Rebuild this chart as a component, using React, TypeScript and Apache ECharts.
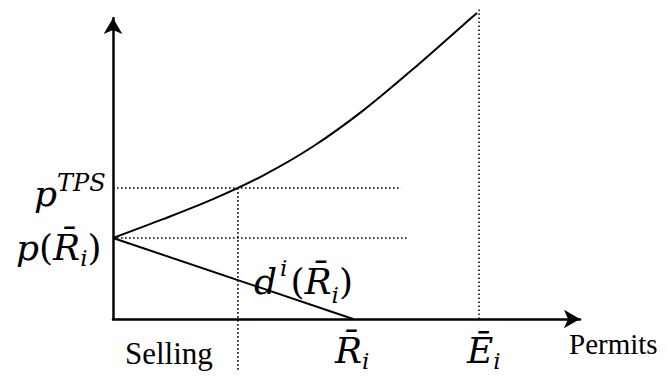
import React, { useEffect, useRef } from "react";
import * as echarts from "echarts";

// Supply (marginal cost) curve (axis units)
const supplyX = [0, 10.85, 21.69, 32.54, 43.38, 54.23, 65.08, 75.92, 78.96];
const supplyY = [27.1, 33.4, 40.1, 48.0, 57.7, 69.7, 83.6, 98.3, 102.4];
// Demand line d^i(R̄_i)
const demandX = [0, 52.1];
const demandY = [27.1, 0];
// Reference levels
const pRbar = 27.1;
const pTPS = 43.8;
const qSell = 27.1;
const Ebar = 79.4;
const hLineEnds = [62.5, 64.2]; // right ends of the pTPS / p(R̄) dotted lines
const sellLow = -17.1; // lower end of the "Selling" dotted line
const eTop = 104.3; // top of the Ē dotted line
const xMax = 101.3;
const yMax = 100.7;

const MATH = "DejaVu Serif";
const BAR = "\u0304";

const richStyles = {
  m: { fontFamily: MATH, fontSize: 36, fontStyle: "italic", lineHeight: 44, verticalAlign: "middle", fill: "#000" },
  u: { fontFamily: MATH, fontSize: 36, fontStyle: "normal", lineHeight: 44, verticalAlign: "middle", fill: "#000" },
  M: { fontFamily: MATH, fontSize: 36, fontStyle: "italic", lineHeight: 50, verticalAlign: "middle", fill: "#000" },
  U: { fontFamily: MATH, fontSize: 36, fontStyle: "normal", lineHeight: 50, verticalAlign: "middle", fill: "#000" },
  sub: { fontFamily: MATH, fontSize: 23, fontStyle: "italic", lineHeight: 23, verticalAlign: "bottom", fill: "#000" },
  subD: { fontFamily: MATH, fontSize: 23, fontStyle: "italic", lineHeight: 31, verticalAlign: "bottom", fill: "#000" },
  sup: { fontFamily: MATH, fontSize: 23, fontStyle: "italic", lineHeight: 23, verticalAlign: "top", padding: [0, 3, 0, 3], fill: "#000" },
  supL: { fontFamily: MATH, fontSize: 24, fontStyle: "italic", lineHeight: 24, verticalAlign: "top", fill: "#000" },
};

function rich(text: string, x: number, top: number) {
  return {
    type: "text",
    x,
    y: top,
    silent: true,
    style: { text, rich: richStyles, align: "left", verticalAlign: "top", fill: "#000" },
  };
}
function word(text: string, x: number, baseline: number, size: number) {
  return {
    type: "text",
    x,
    y: baseline - 0.3 * size,
    silent: true,
    style: { text, fill: "#000", font: `${size}px "Liberation Serif"`, align: "left", verticalAlign: "middle" },
  };
}

export default function App() {
  const ref = useRef<HTMLDivElement>(null);
  useEffect(() => {
    if (!ref.current) return;
    const chart = echarts.init(ref.current, null, { renderer: "svg" });
    const dotted = { color: "#000", width: 1.5, type: [1.6, 2.4] as any };
    const pair = (xs: number[], ys: number[]) => xs.map((x, i) => [x, ys[i]]);
    const axisCommon = {
      type: "value",
      min: 0,
      axisLine: { show: true, onZero: false, symbol: ["none", "arrow"], symbolSize: [14, 16], lineStyle: { color: "#000", width: 2.5 } },
      axisTick: { show: false },
      axisLabel: { show: false },
      splitLine: { show: false },
    };
    chart.setOption({
      animation: false,
      backgroundColor: "#fff",
      grid: { left: 113, right: 87, top: 18, bottom: 62 },
      xAxis: { ...axisCommon, max: xMax },
      yAxis: { ...axisCommon, max: yMax },
      series: [
        { type: "line", data: pair(supplyX, supplyY), smooth: 0.3, symbol: "none", clip: false, silent: true, lineStyle: { color: "#000", width: 2 } },
        { type: "line", data: pair(demandX, demandY), symbol: "none", clip: false, silent: true, lineStyle: { color: "#000", width: 2 } },
        { type: "line", data: [[0, pTPS], [hLineEnds[0], pTPS]], symbol: "none", clip: false, silent: true, lineStyle: dotted },
        { type: "line", data: [[0, pRbar], [hLineEnds[1], pRbar]], symbol: "none", clip: false, silent: true, lineStyle: dotted },
        { type: "line", data: [[qSell, pTPS], [qSell, sellLow]], symbol: "none", clip: false, silent: true, lineStyle: dotted },
        { type: "line", data: [[Ebar, 0], [Ebar, eTop]], symbol: "none", clip: false, silent: true, lineStyle: dotted },
      ],
      graphic: [
        rich("{m|p}{supL|TPS}", 34, 171),
        rich(`{m|p}{u|(}{m|R${BAR}}{sub|i}{u|)}`, 16, 225),
        rich(`{M|d}{sup|i}{U|(}{M|R${BAR}}{subD|i}{U|)}`, 254, 256),
        rich(`{m|R${BAR}}{sub|i}`, 335, 328),
        rich(`{m|E${BAR}}{sub|i}`, 467, 328),
        word("Selling", 125, 363, 31),
        word("Permits", 569, 353, 29),
      ],
    });
    return () => chart.dispose();
  }, []);
  return <div ref={ref} style={{ position: "fixed", left: 0, top: 0, width: 667, height: 381 }} />;
}
